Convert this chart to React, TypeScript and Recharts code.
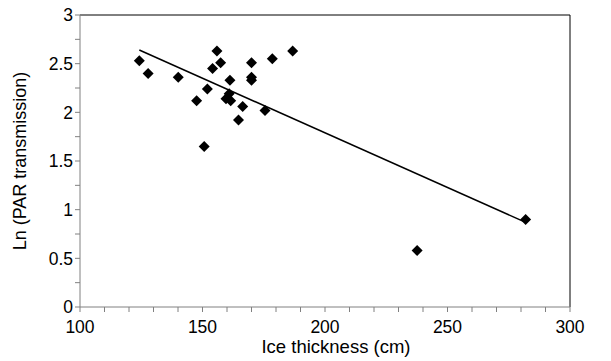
import { ComposedChart, Scatter, XAxis, YAxis, ReferenceLine, Label } from "recharts";

// measured ice thickness (cm) and ln of PAR transmission
const thickness = [124.2, 127.8, 140.1, 155.9, 157.4, 154.1, 152.0, 147.6, 150.7, 161.2, 160.9, 159.6, 161.5, 166.4, 164.7, 170.0, 170.0, 170.0, 175.5, 178.5, 186.8, 281.9, 237.6];
const lnPar = [2.53, 2.40, 2.36, 2.63, 2.51, 2.45, 2.24, 2.12, 1.65, 2.33, 2.19, 2.14, 2.12, 2.06, 1.92, 2.51, 2.36, 2.33, 2.02, 2.55, 2.63, 0.90, 0.58];

// regression line end points
const trendX = [124.2, 281.9];
const trendY = [2.64, 0.87];

const xTicks = [100, 110, 120, 130, 140, 150, 160, 170, 180, 190, 200, 210, 220, 230, 240, 250, 260, 270, 280, 290, 300];
const yTicks = [0, 0.25, 0.5, 0.75, 1, 1.25, 1.5, 1.75, 2, 2.25, 2.5, 2.75, 3];

const points = thickness.map((x, i) => ({ x, y: lnPar[i] }));
const trend = trendX.map((x, i) => ({ x, y: trendY[i] }));

const font = "'Liberation Sans', Arial, sans-serif";

function Diamond(props: any) {
  const { cx, cy } = props;
  const r = 5.5;
  return <path d={`M${cx},${cy - r}L${cx + r},${cy}L${cx},${cy + r}L${cx - r},${cy}Z`} fill="#000" />;
}

export default function App() {
  return (
    <div style={{ position: "absolute", left: 0, top: 0, background: "#fff" }}>
      <ComposedChart width={611} height={361} margin={{ top: 15, right: 41, left: 0, bottom: 0 }}>
        <XAxis
          type="number"
          dataKey="x"
          domain={[100, 300]}
          ticks={xTicks}
          interval={0}
          tickFormatter={(v: number) => (v % 50 === 0 ? String(v) : "")}
          stroke="#808080"
          tickSize={5}
          tickMargin={9}
          tick={{ fill: "#000", fontSize: 17.5, fontFamily: font }}
          height={54}
        >
          <Label value="Ice thickness (cm)" position="insideBottom" offset={8} dx={11} style={{ fill: "#000", fontSize: 18.5, fontFamily: font }} />
        </XAxis>
        <YAxis
          type="number"
          dataKey="y"
          domain={[0, 3]}
          ticks={yTicks}
          interval={0}
          tickFormatter={(v: number) => (v % 0.5 === 0 ? String(v) : "")}
          stroke="#808080"
          tickSize={5}
          tick={{ fill: "#000", fontSize: 17.5, fontFamily: font }}
          width={80}
        >
          <Label value="Ln (PAR transmission)" angle={-90} position="insideLeft" offset={20} style={{ textAnchor: "middle", fill: "#000", fontSize: 18, fontFamily: font }} />
        </YAxis>
        <ReferenceLine y={3} stroke="#000" />
        <ReferenceLine x={300} stroke="#000" />
        <Scatter data={trend} line={{ stroke: "#000", strokeWidth: 1.5 }} shape={() => null} isAnimationActive={false} />
        <Scatter data={points} shape={Diamond} isAnimationActive={false} />
      </ComposedChart>
    </div>
  );
}
